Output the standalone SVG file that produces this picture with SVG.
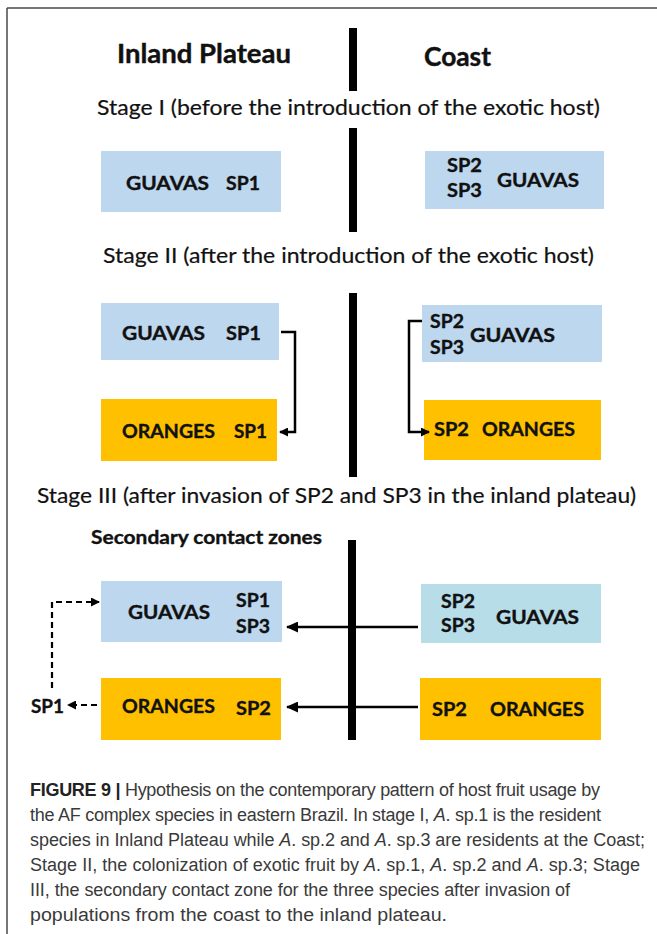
<svg xmlns="http://www.w3.org/2000/svg" width="657" height="934" viewBox="0 0 657 934">
<style>
.hd{font-family:Lato,"Open Sans","Liberation Sans",sans-serif;font-weight:bold;font-size:26px;fill:#111;stroke:#111;stroke-width:0.4}
.st{font-family:Lato,"Open Sans","Liberation Sans",sans-serif;font-size:21px;fill:#111;stroke:#111;stroke-width:0.2}
.bx{font-family:Lato,"Open Sans","Liberation Sans",sans-serif;font-weight:bold;font-size:18.5px;fill:#111;stroke:#111;stroke-width:0.35}
.blue{fill:#BDD7EE}
.teal{fill:#B7DDE9}
.orange{fill:#FFC000}
.bar{fill:#000}
.ln{fill:none;stroke:#000;stroke-width:2.5}
.dash{fill:none;stroke:#000;stroke-width:2.2;stroke-dasharray:6 4}
.cap{font-family:"Liberation Sans",Arial,sans-serif;font-size:18px;fill:#3a3a3a}
.capb{font-weight:bold;fill:#222}
</style>
<defs>
<marker id="ah" markerWidth="9" markerHeight="9" refX="8" refY="4.5" orient="auto" markerUnits="userSpaceOnUse"><path d="M0,0 L9,4.5 L0,9 Z" fill="#000"/></marker>
<marker id="ah2" markerWidth="12" markerHeight="11" refX="11" refY="5.5" orient="auto" markerUnits="userSpaceOnUse"><path d="M0,0 L12,5.5 L0,11 Z" fill="#000"/></marker>
</defs>
<rect width="657" height="934" fill="#fff"/>
<path d="M7,8 H657 M7,8 V934" stroke="#4a4a4a" stroke-width="1.5" fill="none"/>

<g id="headers">
<text class="hd" x="117" y="63" textLength="174" lengthAdjust="spacingAndGlyphs">Inland Plateau</text>
<text class="hd" x="424" y="66" textLength="67" lengthAdjust="spacingAndGlyphs">Coast</text>
<text class="st" x="97" y="115" textLength="503" lengthAdjust="spacingAndGlyphs">Stage I (before the introduction  of the exotic host)</text>
<text class="st" x="103" y="263" textLength="491" lengthAdjust="spacingAndGlyphs">Stage II (after the  introduction  of the exotic host)</text>
<text class="st" x="37" y="503" textLength="599" lengthAdjust="spacingAndGlyphs">Stage III (after invasion of SP2  and SP3 in the inland plateau)</text>
<text class="bx" x="91" y="544" textLength="231" lengthAdjust="spacingAndGlyphs">Secondary contact zones</text>
</g>

<g id="dividers">
<rect class="bar" x="349" y="28" width="8" height="63"/>
<rect class="bar" x="349" y="128" width="8" height="104"/>
<rect class="bar" x="349" y="293" width="8" height="184"/>
<rect class="bar" x="348" y="540" width="8" height="200"/>
</g>

<g id="s1-guavas-inland">
<rect class="blue" x="101" y="151" width="180" height="61"/>
<text class="bx" x="126" y="190" textLength="83" lengthAdjust="spacingAndGlyphs">GUAVAS</text>
<text class="bx" x="226" y="190" textLength="34" lengthAdjust="spacingAndGlyphs">SP1</text>
</g>
<g id="s1-guavas-coast">
<rect class="blue" x="425" y="151" width="179" height="58"/>
<text class="bx" x="447" y="172" textLength="35" lengthAdjust="spacingAndGlyphs">SP2</text>
<text class="bx" x="447" y="197" textLength="35" lengthAdjust="spacingAndGlyphs">SP3</text>
<text class="bx" x="497" y="187" textLength="82" lengthAdjust="spacingAndGlyphs">GUAVAS</text>
</g>

<g id="s2-guavas-inland">
<rect class="blue" x="101" y="303" width="178" height="57"/>
<text class="bx" x="122" y="340" textLength="83" lengthAdjust="spacingAndGlyphs">GUAVAS</text>
<text class="bx" x="226" y="340" textLength="35" lengthAdjust="spacingAndGlyphs">SP1</text>
</g>
<g id="s2-oranges-inland">
<rect class="orange" x="101" y="399" width="176" height="62"/>
<text class="bx" x="122" y="438" textLength="93" lengthAdjust="spacingAndGlyphs">ORANGES</text>
<text class="bx" x="234" y="438" textLength="33" lengthAdjust="spacingAndGlyphs">SP1</text>
</g>
<g id="s2-guavas-coast">
<rect class="blue" x="422" y="305" width="180" height="57"/>
<text class="bx" x="430" y="328" textLength="34" lengthAdjust="spacingAndGlyphs">SP2</text>
<text class="bx" x="430" y="354" textLength="34" lengthAdjust="spacingAndGlyphs">SP3</text>
<text class="bx" x="470" y="342" textLength="85" lengthAdjust="spacingAndGlyphs">GUAVAS</text>
</g>
<g id="s2-oranges-coast">
<rect class="orange" x="424" y="400" width="177" height="60"/>
<text class="bx" x="434" y="436" textLength="35" lengthAdjust="spacingAndGlyphs">SP2</text>
<text class="bx" x="482" y="436" textLength="93" lengthAdjust="spacingAndGlyphs">ORANGES</text>
</g>

<g id="s3-guavas-inland">
<rect class="blue" x="101" y="581" width="181" height="61"/>
<text class="bx" x="128" y="619" textLength="82" lengthAdjust="spacingAndGlyphs">GUAVAS</text>
<text class="bx" x="236" y="607" textLength="34" lengthAdjust="spacingAndGlyphs">SP1</text>
<text class="bx" x="236" y="633" textLength="34" lengthAdjust="spacingAndGlyphs">SP3</text>
</g>
<g id="s3-oranges-inland">
<rect class="orange" x="101" y="678" width="180" height="62"/>
<text class="bx" x="122" y="713" textLength="93" lengthAdjust="spacingAndGlyphs">ORANGES</text>
<text class="bx" x="236" y="715" textLength="35" lengthAdjust="spacingAndGlyphs">SP2</text>
</g>
<g id="s3-guavas-coast">
<rect class="teal" x="421" y="584" width="180" height="59"/>
<text class="bx" x="441" y="608" textLength="34" lengthAdjust="spacingAndGlyphs">SP2</text>
<text class="bx" x="441" y="632" textLength="34" lengthAdjust="spacingAndGlyphs">SP3</text>
<text class="bx" x="496" y="624" textLength="83" lengthAdjust="spacingAndGlyphs">GUAVAS</text>
</g>
<g id="s3-oranges-coast">
<rect class="orange" x="420" y="678" width="181" height="62"/>
<text class="bx" x="432" y="716" textLength="35" lengthAdjust="spacingAndGlyphs">SP2</text>
<text class="bx" x="490" y="716" textLength="94" lengthAdjust="spacingAndGlyphs">ORANGES</text>
</g>
<g id="sp1-out">
<text class="bx" x="31" y="713" textLength="33" lengthAdjust="spacingAndGlyphs">SP1</text>
</g>

<g id="connectors">
<path class="ln" d="M281,332 H295 V432 H280" marker-end="url(#ah)"/>
<path class="ln" d="M422,321 H409 V432 H429" marker-end="url(#ah)"/>
<path class="ln" d="M418,627 H287" marker-end="url(#ah2)"/>
<path class="ln" d="M418,707 H287" marker-end="url(#ah2)"/>
<path class="dash" d="M97,705 H68" marker-end="url(#ah)"/>
<path class="dash" d="M52,688 V602 H99" marker-end="url(#ah)"/>
</g>

<g id="caption">
<text class="cap" x="30" y="796" textLength="570"><tspan class="capb">FIGURE 9 |</tspan> Hypothesis on the contemporary pattern of host fruit usage by</text>
<text class="cap" x="30" y="821" textLength="571">the AF complex species in eastern Brazil. In stage I, <tspan font-style="italic">A</tspan>. sp.1 is the resident</text>
<text class="cap" x="30" y="846" textLength="615">species in Inland Plateau while <tspan font-style="italic">A</tspan>. sp.2 and <tspan font-style="italic">A</tspan>. sp.3 are residents at the Coast;</text>
<text class="cap" x="30" y="871" textLength="610">Stage II, the colonization of exotic fruit by <tspan font-style="italic">A</tspan>. sp.1, <tspan font-style="italic">A</tspan>. sp.2 and <tspan font-style="italic">A</tspan>. sp.3; Stage</text>
<text class="cap" x="30" y="896" textLength="540">III, the secondary contact zone for the three species after invasion of</text>
<text class="cap" x="30" y="921" textLength="417" lengthAdjust="spacingAndGlyphs">populations from the coast to the inland plateau.</text>
</g>
</svg>
